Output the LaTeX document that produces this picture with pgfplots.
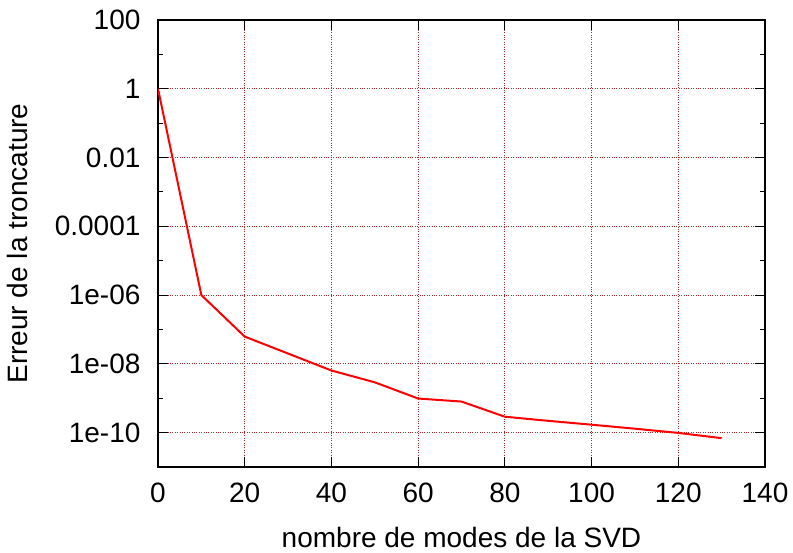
\documentclass[border=0pt]{standalone}
\usepackage{pgfplots}
\pgfplotsset{compat=1.18}
\usepackage{fontspec}
\setmainfont{Liberation Sans}
\definecolor{gridred}{RGB}{170,40,40}
\begin{document}
\fontsize{28}{33}\selectfont
\begin{tikzpicture}
\useasboundingbox (-158pt,-86pt) rectangle (635pt,467pt);
\begin{semilogyaxis}[
    at={(0,0)}, anchor=south west,
    scale only axis,
    width=607pt, height=447pt,
    xmin=0, xmax=140,
    ymin=1e-11, ymax=100,
    xtick={0,20,40,60,80,100,120,140},
    xticklabels={0,20,40,60,80,100,120,140},
    ytick={1e2,1,1e-2,1e-4,1e-6,1e-8,1e-10},
    yticklabels={100,1,0.01,0.0001,1e-06,1e-08,1e-10},
    minor ytick={1e1,1e-1,1e-3,1e-5,1e-7,1e-9},
    grid=major,
    major grid style={dotted, color=gridred, line width=0.8pt},
    tick align=inside,
    major tick length=10pt,
    minor tick length=5pt,
    tick style={black, line width=1pt},
    axis line style={line width=1.4pt},
    xlabel={nombre de modes de la SVD},
    ylabel={Erreur de la troncature},
    xticklabel style={yshift=-6pt},
    yticklabel style={xshift=-8pt},
    xlabel style={yshift=-6pt},
    ylabel style={yshift=8pt},
]
% erreur de troncature
\addplot[color=red, line width=2pt] coordinates {
    (0, 1) (10, 1e-6) (20, 6.2e-8) (40, 6.4e-9) (50, 2.9e-9)
    (60, 9.8e-10) (70, 8.0e-10) (80, 2.9e-10) (90, 2.2e-10)
    (100, 1.7e-10) (110, 1.3e-10) (120, 9.8e-11) (130, 6.9e-11)
};
\end{semilogyaxis}
\end{tikzpicture}
\end{document}
